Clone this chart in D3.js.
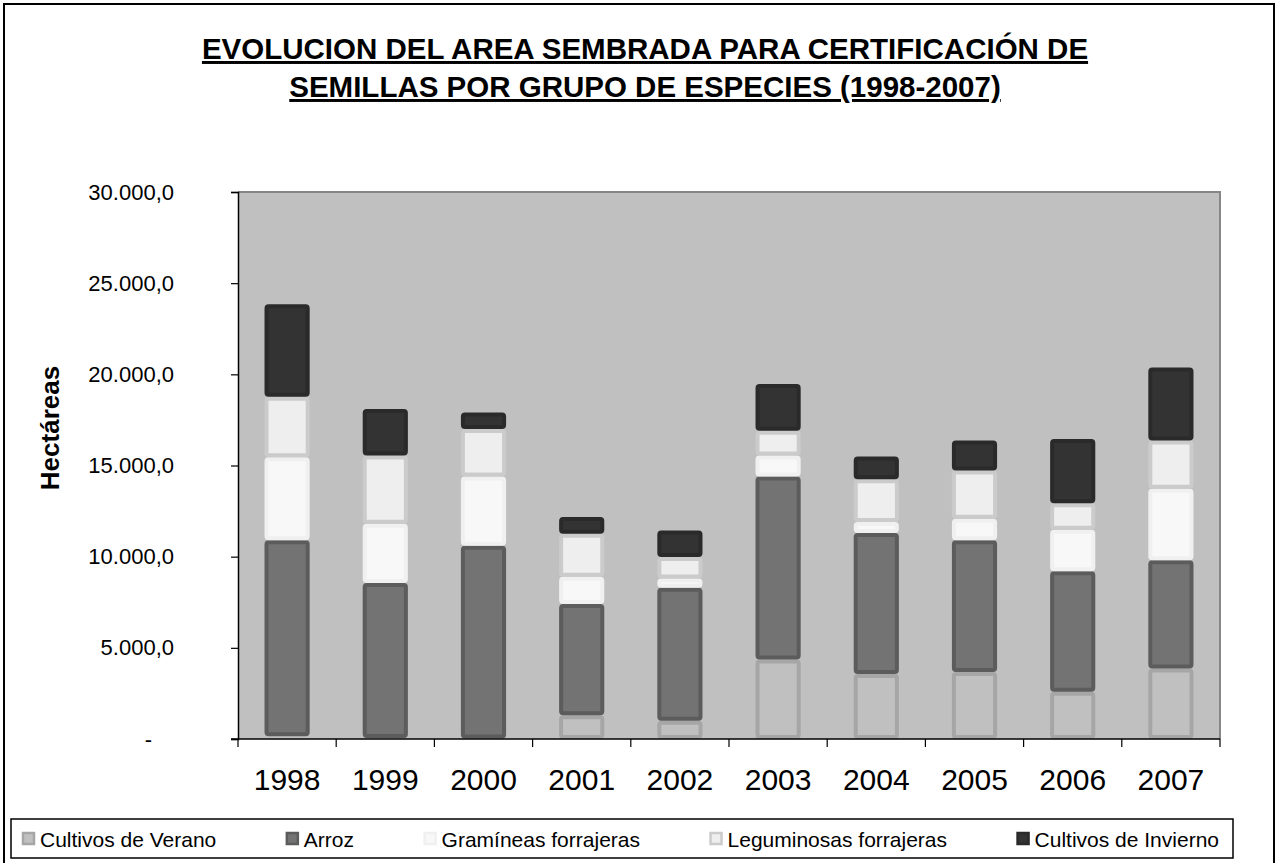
<!DOCTYPE html>
<html>
<head>
<meta charset="utf-8">
<script src="https://cdn.jsdelivr.net/npm/d3@7"></script>
<style>
  body { margin: 0; background: #fff; }
  svg { display: block; font-family: "Liberation Sans", Arial, sans-serif; }
</style>
</head>
<body>
<svg id="chart" width="1280" height="863"></svg>
<script>
// Data (hectáreas)
const years = ["1998", "1999", "2000", "2001", "2002", "2003", "2004", "2005", "2006", "2007"];
const seriesNames = ["Cultivos de Verano", "Arroz", "Gramíneas forrajeras", "Leguminosas forrajeras", "Cultivos de Invierno"];
const verano      = [150, 50, 30, 1300, 1000, 4360, 3560, 3680, 2590, 3870];
const arroz       = [10750, 8500, 10570, 6100, 7300, 10040, 7740, 7220, 6610, 5930];
const gramineas   = [4550, 3250, 3800, 1500, 500, 1150, 600, 1180, 2280, 3920];
const leguminosas = [3320, 3750, 2600, 2360, 1180, 1350, 2350, 2640, 1450, 2650];
const invierno    = [5080, 2550, 900, 910, 1460, 2570, 1250, 1650, 3530, 4010];
const yTicks = [0, 5000, 10000, 15000, 20000, 25000, 30000];

// Fill and border colours per series
const fills   = ["#c0c0c0", "#737373", "#f8f8f8", "#eeeeee", "#333333"];
const borders = ["#a6a6a6", "#5c5c5c", "#f0f0f0", "#cbcbcb", "#2a2a2a"];

const svg = d3.select("#chart");
const plot = { left: 238, right: 1220, top: 192, bottom: 739 };

// Outer chart border
svg.append("rect")
  .attr("x", 4).attr("y", 4)
  .attr("width", 1270).attr("height", 880)
  .attr("fill", "#fff")
  .attr("stroke", "#000")
  .attr("stroke-width", 2);

// Title
const title = svg.append("text")
  .attr("text-anchor", "middle")
  .style("font-size", "29.5px")
  .style("font-weight", "bold")
  .style("text-decoration", "underline");
title.append("tspan").attr("x", 645).attr("y", 59)
  .text("EVOLUCION DEL AREA SEMBRADA PARA CERTIFICACIÓN DE");
title.append("tspan").attr("x", 645).attr("y", 97)
  .text("SEMILLAS POR GRUPO DE ESPECIES (1998-2007)");

// Build table for stacking
const table = years.map((yr, i) => ({
  year: yr,
  "Cultivos de Verano": verano[i],
  "Arroz": arroz[i],
  "Gramíneas forrajeras": gramineas[i],
  "Leguminosas forrajeras": leguminosas[i],
  "Cultivos de Invierno": invierno[i]
}));
const stacked = d3.stack().keys(seriesNames)(table);

// Scales
const x = d3.scaleBand()
  .domain(years)
  .range([plot.left, plot.right])
  .paddingInner(0.54)
  .paddingOuter(0.27);

const y = d3.scaleLinear()
  .domain([0, 30000])
  .range([plot.bottom, plot.top]);

// Plot background
svg.append("rect")
  .attr("x", plot.left).attr("y", plot.top)
  .attr("width", plot.right - plot.left)
  .attr("height", plot.bottom - plot.top)
  .attr("fill", "#c0c0c0");

// Gray frame on top and right
svg.append("path")
  .attr("d", `M${plot.left},${plot.top}H${plot.right}V${plot.bottom}`)
  .attr("fill", "none")
  .attr("stroke", "#868686")
  .attr("stroke-width", 2);

// Bars
const sw = 4;
svg.selectAll(".series")
  .data(stacked)
  .enter()
  .append("g")
  .attr("class", "series")
  .each(function (s, si) {
    d3.select(this).selectAll("rect")
      .data(s)
      .enter()
      .append("rect")
      .attr("x", d => x(d.data.year) + sw / 2)
      .attr("width", x.bandwidth() - sw)
      .attr("y", d => y(d[1]) + sw / 2)
      .attr("height", d => Math.max(0, y(d[0]) - y(d[1]) - sw))
      .attr("rx", 2)
      .attr("fill", fills[si])
      .attr("stroke", borders[si])
      .attr("stroke-width", sw);
  });

// Y axis
const fmt = v => v === 0 ? "-" : d3.format(",.1f")(v).replace(/,/g, "#").replace(".", ",").replace(/#/g, ".");
const yAxis = svg.append("g")
  .attr("transform", `translate(${plot.left},0)`)
  .call(d3.axisLeft(y).tickValues(yTicks).tickFormat(fmt).tickSize(7).tickPadding(57));
yAxis.select(".domain").attr("stroke", "#000").attr("stroke-width", 1.5);
yAxis.selectAll("line").attr("stroke", "#000").attr("stroke-width", 1.2);
yAxis.selectAll("text")
  .style("font-size", "22px")
  .attr("fill", "#000")
  .attr("font-family", null);
yAxis.selectAll(".tick").filter(d => d === 0).select("text").attr("dx", -22);

// X axis: labels centred on bars, ticks at category boundaries
const xAxis = svg.append("g")
  .attr("transform", `translate(0,${plot.bottom})`)
  .call(d3.axisBottom(x).tickSize(0).tickPadding(30));
xAxis.select(".domain").remove();
xAxis.selectAll("text")
  .style("font-size", "30px")
  .attr("fill", "#000")
  .attr("font-family", null);

const bounds = d3.range(years.length + 1).map(i => plot.left + i * x.step());
const xTickG = svg.append("g");
xTickG.append("line")
  .attr("x1", plot.left - 7).attr("x2", plot.right)
  .attr("y1", plot.bottom).attr("y2", plot.bottom)
  .attr("stroke", "#000").attr("stroke-width", 1.5);
xTickG.selectAll(".xb")
  .data(bounds)
  .enter()
  .append("line")
  .attr("x1", d => d).attr("x2", d => d)
  .attr("y1", plot.bottom).attr("y2", plot.bottom + 8)
  .attr("stroke", "#000").attr("stroke-width", 1.2);

// Y axis title
svg.append("text")
  .attr("transform", "translate(59,428) rotate(-90)")
  .attr("text-anchor", "middle")
  .style("font-size", "26px")
  .style("font-weight", "bold")
  .text("Hectáreas");

// Legend
const legendBox = { x: 11, y: 819, w: 1222, h: 39 };
svg.append("rect")
  .attr("x", legendBox.x).attr("y", legendBox.y)
  .attr("width", legendBox.w).attr("height", legendBox.h)
  .attr("fill", "#fff")
  .attr("stroke", "#000")
  .attr("stroke-width", 1.5);

const legend = svg.append("g");
const items = legend.selectAll(".item")
  .data(seriesNames)
  .enter()
  .append("g")
  .attr("class", "item");
items.append("rect")
  .attr("width", 11).attr("height", 11)
  .attr("y", legendBox.y + 14)
  .attr("fill", (d, i) => fills[i])
  .attr("stroke", (d, i) => borders[i])
  .attr("stroke-width", 2.5);
items.append("text")
  .attr("y", legendBox.y + 28)
  .attr("x", 17)
  .style("font-size", "21px")
  .text(d => d);

// Spread the legend items evenly across the box
const widths = [];
items.each(function () { widths.push(this.querySelector("text").getComputedTextLength() + 17); });
const totalW = d3.sum(widths);
const gap = (legendBox.w - 26 - totalW) / (seriesNames.length - 1);
let cx = legendBox.x + 12;
items.each(function (d, i) {
  d3.select(this).select("rect").attr("x", cx);
  d3.select(this).select("text").attr("x", cx + 17);
  cx += widths[i] + gap;
});
</script>
</body>
</html>
